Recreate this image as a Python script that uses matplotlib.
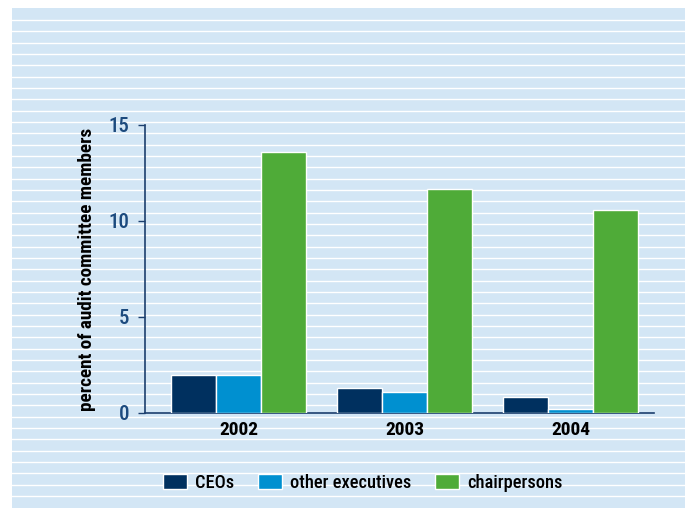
import numpy as np
import matplotlib.pyplot as plt
from matplotlib.patches import Rectangle
from matplotlib.font_manager import fontManager

years = ["2002", "2003", "2004"]
ceos = [2.0, 1.3, 0.85]
other_exec = [2.0, 1.1, 0.2]
chairs = [13.6, 11.65, 10.55]
series_names = ["CEOs", "other executives", "chairpersons"]
colors = ["#00305f", "#0090d0", "#4fab38"]

names = {f.name for f in fontManager.ttflist}
fam = "DejaVu Sans"
for cand in ["Roboto Condensed", "Barlow Semi Condensed", "Barlow Condensed", "Asap Condensed"]:
    if cand in names:
        fam = cand
        break
plt.rcParams['font.family'] = [fam, 'DejaVu Sans']

W, H = 685, 509
fig = plt.figure(figsize=(6.85, 5.09), dpi=100)

# striped background panel
fig.patches.append(Rectangle((12 / W, 1 - 508 / H), 1 - 12 / W, 500 / H,
                             transform=fig.transFigure, facecolor="#d3e6f5",
                             edgecolor="none", zorder=-10))
for y in np.arange(20, 505, 11.33):
    fig.add_artist(plt.Line2D([12 / W, 1], [1 - y / H, 1 - y / H],
                              transform=fig.transFigure, color="white",
                              lw=1.0, zorder=-9))

ax = fig.add_axes([145 / W, 1 - 413 / H, (654 - 145) / W, (413 - 125) / H])
ax.set_facecolor("none")

x = np.arange(len(years))
w = 0.27
for i, (vals, name, c) in enumerate(zip([ceos, other_exec, chairs], series_names, colors)):
    ax.bar(x + (i - 1) * w, vals, w, color=c, edgecolor="white", linewidth=1.0,
           label=name, zorder=3)

ax.set_xlim(-0.563, 2.503)
ax.set_ylim(0, 15)
ax.set_yticks([0, 5, 10, 15])
ax.set_xticks(x)
ax.set_xticklabels(years, fontsize=14, fontweight="bold", color="black")
for lbl in ax.get_yticklabels():
    lbl.set_fontweight(500)
for s in ["top", "right"]:
    ax.spines[s].set_visible(False)
for s in ["left", "bottom"]:
    ax.spines[s].set_color("#1c3f6e")
    ax.spines[s].set_linewidth(1.2)
ax.tick_params(axis="y", length=5, width=1, color="#1c3f6e", labelcolor="#1c4a7e",
               labelsize=15, pad=6)
ax.tick_params(axis="x", length=0, pad=6)
ax.set_ylabel("percent of audit committee members", fontsize=13.8, fontweight="bold",
              color="black", labelpad=9)

ax.legend(loc="center", bbox_to_anchor=(363 / W, 1 - 483 / H),
          bbox_transform=fig.transFigure, ncol=3, frameon=False,
          prop={"size": 13.2, "weight": 500},
          handlelength=1.3, handleheight=0.85, columnspacing=1.3, handletextpad=0.45)

fig.savefig("out.png", dpi=100)
